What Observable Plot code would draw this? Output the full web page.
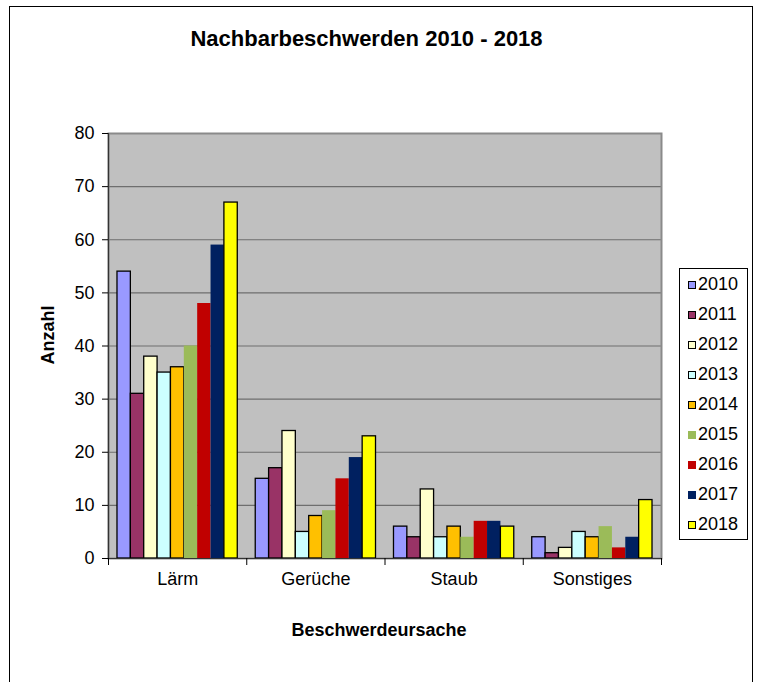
<!DOCTYPE html>
<html>
<head>
<meta charset="utf-8">
<script src="https://cdn.jsdelivr.net/npm/d3@7"></script>
<script src="https://cdn.jsdelivr.net/npm/@observablehq/plot@0.6"></script>
<style>
  html, body { margin: 0; padding: 0; background: #fff; }
  body { width: 757px; height: 682px; position: relative; overflow: hidden;
         font-family: "Liberation Sans", Arial, sans-serif; color: #000; }
  #outer { position: absolute; left: 9px; top: 6px; width: 742px; height: 700px;
           border-left: 1px solid #000; border-top: 1px solid #000; border-right: 1px solid #000; }
  #chart { position: absolute; left: 0; top: 0; }
  .title { position: absolute; left: 0; width: 733px; text-align: center; top: 26px;
           font-size: 22px; font-weight: bold; }
  .xtitle { position: absolute; left: 104px; width: 550px; text-align: center; top: 620px;
            font-size: 18px; font-weight: bold; }
  .ytitle { position: absolute; left: 48px; top: 335px; font-size: 18px; font-weight: bold;
            transform: translate(-50%, -50%) rotate(-90deg); white-space: nowrap; }
  #legend { position: absolute; left: 679px; top: 268px; width: 67px; height: 270px;
            border: 1px solid #000; background: #fff; }
  .item { position: absolute; left: 8px; height: 22px; line-height: 22px; font-size: 18px; }
  .sw { display: inline-block; width: 8px; height: 8px; margin-right: 2px; vertical-align: 1px; box-sizing: border-box; }
</style>
</head>
<body>
<div id="outer"></div>
<div id="chart"></div>
<div class="title">Nachbarbeschwerden 2010 - 2018</div>
<div class="xtitle">Beschwerdeursache</div>
<div class="ytitle">Anzahl</div>
<div id="legend"></div>
<script>
const categories = ["Lärm", "Gerüche", "Staub", "Sonstiges"];
const years = ["2010", "2011", "2012", "2013", "2014", "2015", "2016", "2017", "2018"];
const v2010 = [54, 15, 6, 4];
const v2011 = [31, 17, 4, 1];
const v2012 = [38, 24, 13, 2];
const v2013 = [35, 5, 4, 5];
const v2014 = [36, 8, 6, 4];
const v2015 = [40, 9, 4, 6];
const v2016 = [48, 15, 7, 2];
const v2017 = [59, 19, 7, 4];
const v2018 = [67, 23, 6, 11];
const yTicks = [0, 10, 20, 30, 40, 50, 60, 70, 80];

const series = [v2010, v2011, v2012, v2013, v2014, v2015, v2016, v2017, v2018];
const colors = ["#9999FF", "#993366", "#FFFFCC", "#CCFFFF", "#FFC000", "#9BBB59", "#C00000", "#002060", "#FFFF00"];
const outlined = [true, true, true, true, true, false, false, false, true];

const groupFrac = 0.87;
const bw = groupFrac / years.length;
const rows = [];
categories.forEach((c, ci) => {
  years.forEach((y, yi) => {
    const x1 = ci - groupFrac / 2 + yi * bw;
    rows.push({cat: c, year: y, value: series[yi][ci], x1, x2: x1 + bw,
               stroke: outlined[yi] ? "#000" : "none"});
  });
});
const boundaries = d3.range(categories.length + 1).map(i => i - 0.5);
const centers = d3.range(categories.length);

const plot = Plot.plot({
  width: 757,
  height: 682,
  marginLeft: 108,
  marginRight: 96,
  marginTop: 133,
  marginBottom: 124,
  style: {fontFamily: "'Liberation Sans', Arial, sans-serif", fontSize: "18px", color: "#000", background: "transparent"},
  x: {domain: [-0.5, categories.length - 0.5], axis: null},
  y: {domain: [0, 80], axis: null},
  color: {domain: years, range: colors},
  marks: [
    Plot.frame({fill: "#C0C0C0"}),
    Plot.ruleY(yTicks.filter(t => t > 0), {stroke: "#6e6e6e", strokeWidth: 1.2}),
    Plot.frame({stroke: "#8a8a8a", strokeWidth: 2}),
    Plot.rectY(rows, {x1: "x1", x2: "x2", y: "value", fill: "year", stroke: "stroke", strokeWidth: 1.3}),
    Plot.ruleX([-0.5], {stroke: "#333", strokeWidth: 1.2}),
    Plot.ruleY([0], {stroke: "#333", strokeWidth: 1.2}),
    Plot.axisY({ticks: yTicks, tickSize: 6, tickPadding: 8, tickFormat: d => String(d), label: null, fontSize: 18}),
    Plot.axisX({ticks: boundaries, tickSize: 7, tickFormat: () => "", label: null}),
    Plot.axisX({ticks: centers, tickSize: 0, tickPadding: 14, tickFormat: i => categories[i], label: null, fontSize: 18})
  ]
});
document.getElementById("chart").appendChild(plot);

const legend = document.getElementById("legend");
years.forEach((y, i) => {
  const it = document.createElement("div");
  it.className = "item";
  it.style.top = (4 + i * 30) + "px";
  const sw = document.createElement("span");
  sw.className = "sw";
  sw.style.background = colors[i];
  sw.style.border = outlined[i] ? "1px solid #000" : "1px solid " + colors[i];
  it.appendChild(sw);
  it.appendChild(document.createTextNode(y));
  legend.appendChild(it);
});
</script>
</body>
</html>
